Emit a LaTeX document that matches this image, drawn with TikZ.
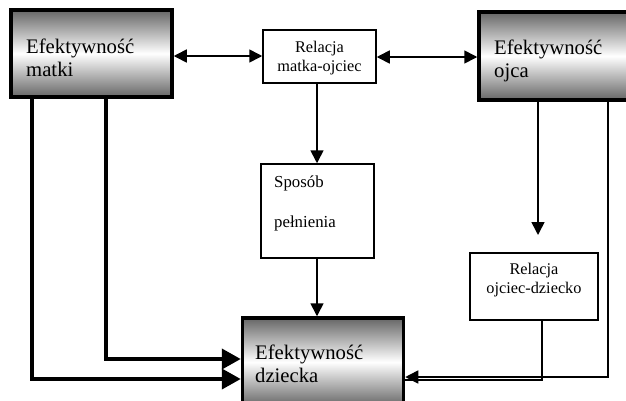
\documentclass[tikz,border=0pt]{standalone}
\usepackage{fontspec}
\setmainfont{Liberation Serif}
\usetikzlibrary{arrows.meta}
\begin{document}
\begin{tikzpicture}[x=1pt,y=-1pt,
  bigbox/.style={draw, line width=3.5pt, top color=black!60, bottom color=black!60, middle color=white,
    minimum width=161pt, minimum height=87pt, inner sep=0pt},
  bigtext/.style={inner sep=0pt, text width=140pt, align=left, font=\fontsize{20.7}{23}\selectfont},
  smallbox/.style={draw, line width=1.5pt, fill=white, inner sep=0pt},
  smalltext/.style={inner sep=0pt, align=center, font=\fontsize{16.3}{19.2}\selectfont},
  thin/.style={line width=1.6pt},
  thick/.style={line width=4pt},
  tiph/.style={-{Triangle[length=13pt,width=13pt]}},
  tipH/.style={-{Triangle[length=19pt,width=20pt]}},
  both/.style={{Triangle[length=13pt,width=13pt]}-{Triangle[length=13pt,width=13pt]}}
]
\useasboundingbox (0,0) rectangle (626,400);
\clip (0,0) rectangle (626,400);

\node[bigbox] (matki) at (91.5,53.5) {};
\node[bigbox, minimum height=88pt] (ojca) at (559.5,56) {};
\node[bigbox, minimum height=88pt] (dziecko) at (323,362) {};

\node[bigtext, anchor=west] (matkit) at (26,58) {Efektywność\\matki};
\node[bigtext, anchor=west] (ojcat) at (494,61) {Efektywność\\ojca};
\node[bigtext, anchor=west] (dzieckot) at (255,364) {Efektywność\\dziecka};

\node[smallbox, minimum width=113pt, minimum height=53pt] (mo) at (319.5,56.5) {};
\node[smalltext] (mot) at (319.5,57.9) {Relacja\\matka-ojciec};
\node[smallbox, minimum width=113pt, minimum height=94pt] (sposob) at (317.5,211) {};
\node[inner sep=0pt, text width=90pt, align=left, anchor=west,
  font=\fontsize{16.8}{40}\selectfont] (sposobt) at (274,203) {Sposób\\pełnienia};
\node[smallbox, minimum width=128pt, minimum height=67pt] (od) at (534,286.5) {};
\node[smalltext] (odt) at (534,280) {Relacja\\ojciec-dziecko};

% matka-ojciec relations
\draw[thin, both] (matki.east |- 0,56) -- (mo.west |- 0,56);
\draw[thin, both] (mo.east |- 0,57) -- (ojca.west |- 0,57);
\draw[thin, tiph] (mo.south -| 317,0) -- (sposob.north -| 317,0);
\draw[thin, tiph] (sposob.south -| 317,0) -- (dziecko.north -| 317,0);

% father side
\coordinate (odtip) at (538,235);
\draw[thin, tiph] (ojca.south -| 538,0) -- (odtip);
\draw[thin] (od.south -| 542,0) -- (542,380) -- (404,380);
\draw[thin, tiph] (ojca.south -| 608,0) -- (608,377) -- (dziecko.east |- 0,377);

% mother side
\draw[thick, tipH] (matki.south -| 106,0) -- (106,359) -- (dziecko.west |- 0,359);
\draw[thick, tipH] (matki.south -| 32,0) -- (32,379) -- (dziecko.west |- 0,379);
\end{tikzpicture}
\end{document}
